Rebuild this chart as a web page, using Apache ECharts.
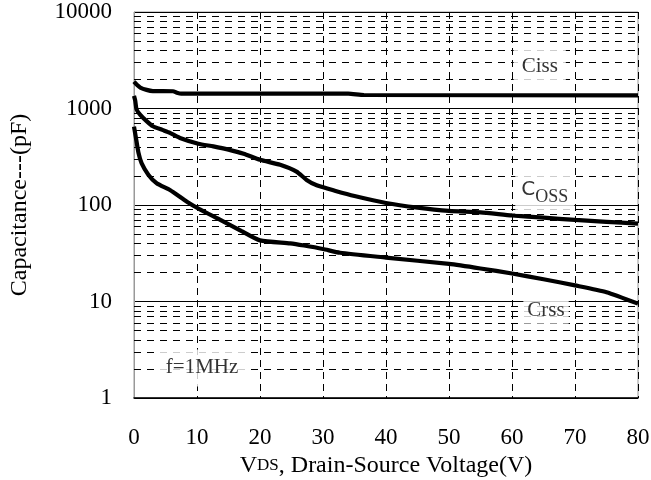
<!DOCTYPE html>
<html>
<head>
<meta charset="utf-8">
<script src="https://cdn.jsdelivr.net/npm/echarts@6/dist/echarts.min.js"></script>
<style>html,body{margin:0;padding:0;background:#fff}#c{width:651px;height:480px}</style>
</head>
<body>
<div id="c"></div>
<script>
// Data (VDS in V, capacitance in pF)
var ciss = [[0,1900],[0.5,1750],[1,1650],[2,1560],[3,1515],[6.2,1510],[6.8,1460],[7.5,1425],[20,1425],[34,1425],[36.5,1380],[80,1370]];
var coss = [[0,1350],[0.2,1200],[0.4,980],[1,860],[2,740],[3,655],[4.5,600],[5.7,560],[7.3,495],[10.2,432],[12.6,405],[15,375],[17.4,340],[20,294],[23.2,261],[25.8,222],[27.4,182],[29,160],[32,140],[35,124],[40,105],[45,94],[50,87],[55,84],[60,78],[65,74],[70,70],[75,67],[80,64]];
var crss = [[0,650],[0.3,500],[0.7,350],[1.2,272],[2.3,205],[3.6,168],[5.7,143],[8.4,108],[10.2,92],[13.7,70],[17,54],[20,43],[24.8,40],[27,38],[30,35],[32.7,32],[40,28.5],[50,24.5],[55,22],[60,19.5],[65,17],[70,14.7],[75,12.5],[80,9.5]];
var xTicks = [0,10,20,30,40,50,60,70,80];
var yDecades = [1,10,100,1000,10000];
var minorMantissas = [2,3,4,5,6,7,8,9];
var annotations = [
  {name:'Ciss', value:[64.4,2700], label:{padding:[10,8]}},
  {name:'Coss', value:[65.2,133], label:{padding:[8,6]}},
  {name:'Crss', value:[65.4,8.1], label:{padding:[3,4]}},
  {name:'f=1MHz', value:[10.8,2.05], label:{padding:[8,8]}}
];

var minorLines = [];
yDecades.slice(0,4).forEach(function(d){ minorMantissas.forEach(function(m){ minorLines.push({yAxis:d*m}); }); });

var serif = 'Liberation Serif';
var chart = echarts.init(document.getElementById('c'));
var lineS = function(data){ return {type:'line', data:data, showSymbol:false, symbol:'none', smooth:0.2, lineStyle:{color:'#000', width:4.2}, z:5, silent:true}; };
chart.setOption({
  animation:false,
  grid:{left:134, right:13, top:12, bottom:82, show:true, borderColor:'#999', borderWidth:1, outerBoundsMode:'none', containLabel:false},
  xAxis:{type:'value', min:0, max:80, interval:10,
    name:'{v|V}{s|DS}{n|, Drain-Source Voltage(V)}', nameLocation:'middle', nameGap:53,
    nameTextStyle:{rich:{v:{fontFamily:serif,fontSize:24,color:'#000'},s:{fontFamily:serif,fontSize:17,color:'#000'},n:{fontFamily:serif,fontSize:24,color:'#000'}}},
    axisLine:{lineStyle:{color:'#000', width:1.5}}, axisTick:{show:false},
    axisLabel:{fontFamily:serif, fontSize:23, color:'#000', margin:28},
    splitLine:{show:true, lineStyle:{color:'#000', type:[7,5], width:1}}
  },
  yAxis:{type:'log', logBase:10, min:1, max:10000,
    name:'Capacitance---(pF)', nameLocation:'middle', nameGap:102, nameRotate:90,
    nameTextStyle:{fontFamily:serif, fontSize:24, color:'#000'},
    axisLine:{show:true, lineStyle:{color:'#999', width:1}}, axisTick:{show:false},
    axisLabel:{fontFamily:serif, fontSize:23, color:'#000', margin:22, formatter:function(v){ return String(Math.round(v)); }},
    splitLine:{show:true, lineStyle:{color:'#000', width:1}}
  },
  series:[
    {type:'line', data:[], markLine:{silent:true, symbol:'none', label:{show:false}, lineStyle:{color:'#000', type:[7,6], width:1}, data:minorLines}},
    lineS(ciss), lineS(coss), lineS(crss),
    {type:'scatter', symbolSize:0, z:10, silent:true,
      data:annotations,
      label:{show:true, position:'inside', color:'#000', backgroundColor:'#fff',
        formatter:function(p){ return p.name==='Coss' ? '{c|C}{o|OSS}' : p.name; },
        fontFamily:serif, fontSize:21, padding:[4,5],
        rich:{c:{fontFamily:'DejaVu Sans', fontSize:20, color:'#000', verticalAlign:'top'}, o:{fontFamily:serif, fontSize:18, color:'#000', padding:[8,0,0,0]}}
      }
    }
  ]
});
</script>
</body>
</html>
